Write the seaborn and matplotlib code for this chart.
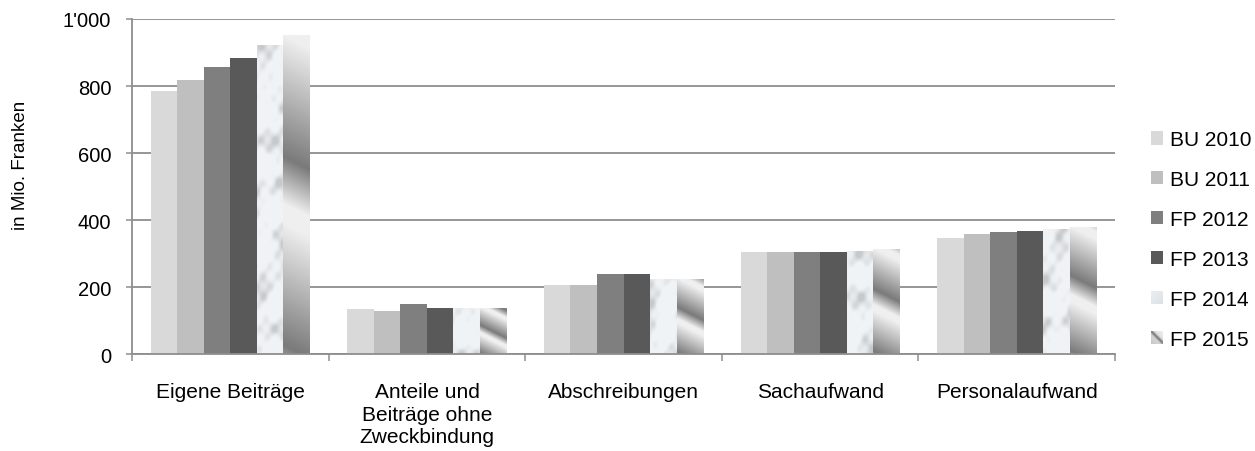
import numpy as np
import pandas as pd
import matplotlib
matplotlib.use("Agg")
import matplotlib.pyplot as plt
import seaborn as sns
from matplotlib.patches import Patch
from matplotlib.ticker import FuncFormatter, FixedLocator

categories = ["Eigene Beiträge", "Anteile und\nBeiträge ohne\nZweckbindung",
              "Abschreibungen", "Sachaufwand", "Personalaufwand"]
years = ["BU 2010", "BU 2011", "FP 2012", "FP 2013", "FP 2014", "FP 2015"]

bu2010 = [785, 135, 208, 306, 348]
bu2011 = [818, 130, 208, 306, 358]
fp2012 = [858, 151, 239, 306, 364]
fp2013 = [884, 140, 239, 306, 368]
fp2014 = [922, 140, 225, 308, 374]
fp2015 = [953, 138, 225, 315, 381]

series = [bu2010, bu2011, fp2012, fp2013, fp2014, fp2015]
colors = ["#d9d9d9", "#bfbfbf", "#7f7f7f", "#595959", "#e4e7ea", "#a8a8a8"]

df = pd.DataFrame({
    "Kategorie": [c for _ in years for c in categories],
    "Jahr": [y for y in years for _ in categories],
    "Wert": [v for s in series for v in s],
})

sns.set_style("white")
plt.rcParams["font.family"] = ["Liberation Sans", "DejaVu Sans"]
plt.rcParams["text.color"] = "black"

fig = plt.figure(figsize=(12.55, 4.52), dpi=100)
ax = fig.add_axes([0.1052, 0.2135, 0.7833, 0.7423])

sns.barplot(data=df, x="Kategorie", y="Wert", hue="Jahr", palette=colors,
            width=0.81, gap=0, saturation=1, linewidth=0, ax=ax, legend=False)

ax.set_xlim(-0.5, 4.5)
ax.set_ylim(0, 1000)
ax.set_yticks([0, 200, 400, 600, 800, 1000])
ax.yaxis.set_major_formatter(FuncFormatter(lambda v, p: f"{int(v):,}".replace(",", "'")))

grid_c = "#8e8e8e"
ax.yaxis.grid(True, color=grid_c, lw=1.3)
ax.set_axisbelow(True)
for s in ["top", "right"]:
    ax.spines[s].set_visible(False)
for s in ["left", "bottom"]:
    ax.spines[s].set_color(grid_c)
    ax.spines[s].set_linewidth(1.3)

ax.tick_params(axis="y", which="major", left=True, length=4, color=grid_c,
               width=1.1, labelsize=14.5, pad=11, labelcolor="black")
ax.tick_params(axis="x", which="major", bottom=False, length=0, labelsize=15, pad=20,
               labelcolor="black")
ax.xaxis.set_minor_locator(FixedLocator([-0.5, 0.5, 1.5, 2.5, 3.5, 4.5]))
ax.tick_params(axis="x", which="minor", bottom=True, length=5, color=grid_c, width=1.1)
for lab in ax.get_xticklabels():
    lab.set_linespacing(1.22)
ax.set_xlabel("")
ax.set_ylabel("in Mio. Franken", fontsize=13.5, va="center", color="black")
ax.yaxis.set_label_coords(-0.113, 0.568)


def marble(X, Y):
    s = X + Y
    n = (np.sin(0.09 * s + 1.6 * np.sin(0.04 * (X - Y)))
         + 0.7 * np.sin(0.15 * X - 0.08 * Y + 1.4 * np.sin(0.06 * s))
         + 0.5 * np.sin(0.27 * s + 0.13 * X)
         + 0.3 * np.sin(0.41 * X - 0.33 * Y))
    blot = np.clip((n + 0.2) / 2.2, 0, 1) ** 1.5
    g = 0.95 - 0.16 * blot
    return np.clip(np.dstack([g - 0.01, g + 0.004, g + 0.015]), 0, 1)


def chrome(xrel, ytop, H):
    period = max(H / 1.7, 14)
    ph = ((ytop - 0.5 * xrel) / period) % 1.0
    g = np.interp(ph, [0, 0.65, 0.9, 1.0], [0.94, 0.48, 0.94, 0.94])
    return np.dstack([g, g, g])


def swatch(kind, w, h):
    XR, YT = np.meshgrid(np.arange(w) + 0.5, np.arange(h) + 0.5)
    if kind == 4:
        g = 0.93 - 0.05 * (XR + YT) / (w + h)
        return np.dstack([g - 0.01, g + 0.004, g + 0.015])
    d = (XR - YT) / max(w, 1)
    g = 0.86 - 0.36 * np.exp(-(d / 0.18) ** 2) + 0.08 * d
    g = np.clip(g, 0, 1)
    return np.dstack([g, g, g])


def texture(kind, bb):
    w, h = int(np.ceil(bb.width)), int(np.ceil(bb.height))
    XR, YT = np.meshgrid(np.arange(w) + 0.5, np.arange(h) + 0.5)
    if kind == 4:
        return marble(XR + bb.x0, YT - bb.y1)
    return chrome(XR, YT, h)


handles = [Patch(facecolor=c, edgecolor="none", label=y) for c, y in zip(colors, years)]
leg = fig.legend(handles=handles, loc="center left", bbox_to_anchor=(0.917, 0.468),
                 frameon=False, fontsize=15, handlelength=0.6, handleheight=0.6,
                 handletextpad=0.3, labelspacing=1.0, borderpad=0, borderaxespad=0)

# textured fills for the last two series
fig.canvas.draw()
renderer = fig.canvas.get_renderer()

for idx, cont in enumerate(ax.containers):
    if idx < 4:
        continue
    for bar in cont:
        bb = bar.get_window_extent(renderer)
        img = texture(idx, bb)
        x0, bw = bar.get_x(), bar.get_width()
        y0, bh = bar.get_y(), bar.get_height()
        im = ax.imshow(img, extent=(x0, x0 + bw, y0, y0 + bh), origin="upper",
                       aspect="auto", interpolation="bilinear", zorder=bar.get_zorder())
        im.set_clip_path(bar)

for idx, lp in enumerate(leg.get_patches()):
    if idx < 4:
        continue
    bb = lp.get_window_extent(renderer)
    x0, y0 = int(round(bb.x0)), int(round(bb.y0))
    w = int(round(bb.x1)) - x0
    h = int(round(bb.y1)) - y0
    fig.figimage(swatch(idx, w, h), xo=x0, yo=y0, origin="upper", zorder=20)

ax.set_xlim(-0.5, 4.5)
ax.set_ylim(0, 1000)

fig.savefig("out.png", dpi=100)
